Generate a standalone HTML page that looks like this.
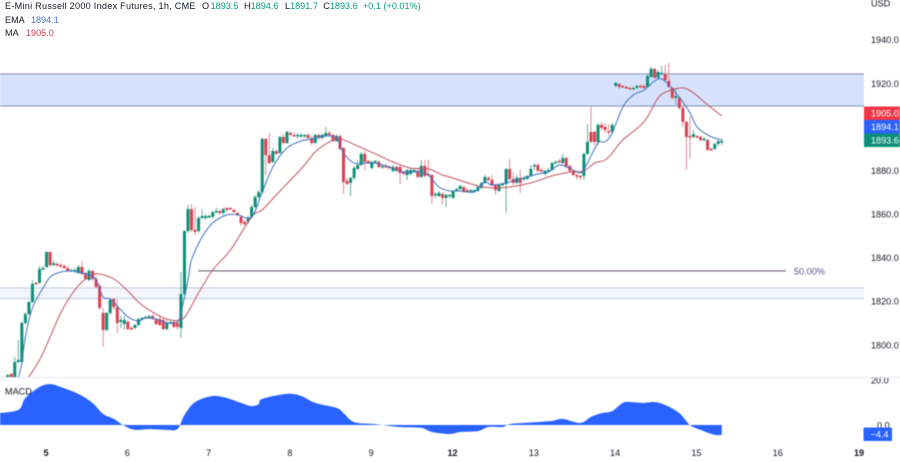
<!DOCTYPE html>
<html lang="en">
<head>
<meta charset="utf-8">
<title>E-Mini Russell 2000 Index Futures chart</title>
<style>
  html, body { margin: 0; padding: 0; background: #fff; }
  #chart-root { position: relative; width: 900px; height: 462px; overflow: hidden; background: #fff; font-family: "Liberation Sans", sans-serif; }
  #chart-svg { position: absolute; left: 0; top: 0; filter: blur(0.4px); }
  #chart-svg text { font-family: "Liberation Sans", sans-serif; font-size: 9.1px; }
  .legend-row { position: absolute; left: 5px; font-size: 9.1px; line-height: 13px; color: #131722; white-space: pre; filter: blur(0.25px); }
  .legend-row span { position: absolute; top: 0; }
  .up { color: #089981; font-weight: normal; }
</style>
</head>
<body>
<div id="chart-root">
  <svg id="chart-svg" width="900" height="462" viewBox="0 0 900 462"></svg>
  <div class="legend-row" style="top:-0.5px;">
    <span style="left:0;letter-spacing:0.27px;">E-Mini Russell 2000 Index Futures, 1h, CME</span>
    <span style="left:197px;">O<b class="up" style="margin-left:1.5px;">1893.5</b></span>
    <span style="left:239px;">H<b class="up">1894.6</b></span>
    <span style="left:280px;">L<b class="up">1891.7</b></span>
    <span style="left:318.3px;">C<b class="up">1893.6</b></span>
    <span class="up" style="left:358px;">+0.1 (+0.01%)</span>
  </div>
  <div class="legend-row" style="top:13.5px;">EMA<span style="left:26px;color:#4a74c9;">1894.1</span></div>
  <div class="legend-row" style="top:26.5px;">MA<span style="left:21px;color:#c8404f;">1905.0</span></div>
</div>
<script>
const opens = [
1785.3,1786.7,1785.3,1792.2,1792.2,1810.1,1814.2,1819.7,1828.5,1828.5,
1834.9,1835.8,1842.7,1836.7,1837.2,1836.7,1836.3,1835.3,1834,1834,
1833,1835.8,1833,1829.8,1834,1830.3,1827.1,1814.7,1806.9,1814.7,
1821.1,1817.4,1810.6,1809.6,1810.6,1807.8,1807.8,1809.2,1811.9,1812.4,
1812.9,1813.3,1811.9,1811.9,1811.5,1807.3,1810.1,1810.6,1810.1,1807.8,
1823.4,1852.3,1862.4,1852.8,1852.3,1858.3,1858.3,1858.8,1858.8,1861,
1861.5,1860.6,1862.9,1862.9,1862,1860.6,1858.8,1856.5,1856.5,1858.8,
1863.3,1867.9,1870.2,1894.6,1887.2,1884,1889,1888.1,1895.5,1892.7,
1897.3,1896.4,1895.9,1895.9,1895.9,1896.4,1895,1892.7,1896.4,1895,
1895.9,1897.3,1896.4,1893.6,1895.9,1890.4,1875.3,1874.4,1876.7,1880.8,
1882.6,1887.7,1884.5,1881.2,1884,1884,1881.7,1882.2,1881.7,1879.9,
1881.7,1881.7,1879.4,1878,1878.5,1879.9,1879.9,1877.1,1882.2,1878.5,
1878,1868.9,1868.4,1869.3,1867.5,1868.4,1867.5,1871.1,1871.6,1872.5,
1871.1,1870.7,1870.7,1870.7,1872.1,1874.4,1876.7,1875.7,1873.4,1870.7,
1873.4,1873.9,1880.8,1876.2,1874.4,1876.7,1876.2,1876.2,1877.6,1882.2,
1882.6,1880.3,1878.5,1879.9,1880.3,1883.5,1884.5,1883.5,1885.8,1882.2,
1879.9,1878,1877.6,1877.6,1887.7,1897.8,1897.8,1893.2,1901,1900.1,
1898.2,1897.8,1918.9,1919.8,1918.9,1918.4,1918,1917.5,1918,1918.9,
1918.9,1918.4,1923,1926.7,1922.6,1924.4,1924.4,1921.2,1918,1913.4,
1913.4,1908.8,1902.4,1895.9,1895.5,1895.9,1895.5,1894.1,1894.1,1890,
1890,1892.3,1893.5];
const closes = [
1786.2,1785.3,1792.2,1793.1,1810.1,1814.2,1819.7,1828,1828,1834.9,
1835.3,1842.7,1836.7,1837.6,1836.7,1836.3,1835.3,1834,1834.4,1834.4,
1835.8,1832.6,1830.3,1834,1830.3,1826.6,1817,1806.9,1814.7,1820.7,
1817.4,1810.1,1811.5,1811.5,1807.3,1807.3,1809.2,1811.9,1812.4,1812.9,
1813.3,1811.9,1809.6,1809.2,1807.3,1810.1,1810.6,1808.3,1808.3,1823.4,
1852.3,1862.4,1852.8,1851.9,1858.3,1859.2,1859.2,1859.2,1861,1861.5,
1860.6,1862.4,1862,1862.4,1861,1859.7,1856,1855.5,1858.3,1863.3,
1867.9,1870.2,1894.6,1887.2,1883.5,1889,1887.7,1895.5,1892.7,1897.8,
1896.4,1895.9,1896.4,1896.4,1896.4,1895,1892.7,1896.4,1895,1896.4,
1897.3,1896.4,1893.6,1895.9,1890,1874.8,1873.9,1876.7,1881.2,1882.6,
1887.7,1884,1884,1884,1884.5,1881.7,1882.2,1881.7,1881.2,1881.7,
1879.9,1879,1878.5,1880.3,1880.3,1880.3,1877.1,1882.2,1877.6,1878,
1868.4,1869.3,1869.8,1867.5,1868.9,1868.9,1870.7,1871.6,1873,1870.2,
1870.7,1871.1,1871.1,1872.5,1874.4,1877.1,1875.7,1873.4,1871.1,1873.4,
1873.9,1880.8,1876.2,1874.4,1876.7,1874.4,1876.7,1877.6,1880.8,1882.6,
1879.9,1879.9,1879.9,1880.3,1883.5,1884,1884,1885.8,1881.7,1879.9,
1878,1877.6,1877.1,1887.7,1893.2,1893.2,1893.2,1901,1899.6,1898.7,
1897.8,1901,1920.3,1918.4,1918.4,1918,1917.5,1918,1918.9,1918.4,
1918,1923.5,1926.7,1922.6,1925.3,1924.9,1921.6,1918.4,1913.4,1914.3,
1908.8,1902.4,1895.5,1895.5,1896.8,1895.5,1894.1,1894.6,1889.5,1889.5,
1892.3,1893.6,1893.6];
const highs = [
1786.7,1787.1,1794.5,1802.3,1810.6,1815.1,1820.2,1829.8,1828.9,1836.3,
1836.3,1842.9,1842.9,1838.6,1838.1,1837.6,1837.2,1836.3,1834.9,1835.3,
1836.7,1838.6,1833.5,1834.9,1834.4,1831.7,1828.5,1817,1815.1,1821.6,
1821.6,1820.7,1813.3,1813.3,1811.5,1808.7,1809.6,1812.4,1812.9,1813.3,
1813.8,1814.2,1812.4,1813.8,1812.4,1811.5,1811,1811.5,1811.5,1833.5,
1852.8,1864.3,1864.7,1863.3,1859.2,1862.4,1860.1,1860.1,1861.5,1862.9,
1862,1862.9,1863.3,1863.3,1862.4,1861,1859.2,1857.4,1859.2,1864.3,
1868.9,1871.1,1895,1895,1897.3,1890.4,1889.5,1895.9,1896.8,1898.2,
1898.2,1897.3,1897.3,1897.3,1896.8,1897.3,1895.9,1896.8,1896.8,1897.3,
1900.1,1898.2,1896.8,1896.8,1896.4,1890.9,1876.7,1877.1,1882.2,1884.9,
1888.6,1889,1884.9,1884.5,1884.9,1884.9,1882.6,1883.1,1882.2,1882.6,
1882.2,1882.2,1879.9,1880.8,1881.2,1881.2,1880.8,1884.9,1884.9,1884.9,
1878.5,1870.2,1870.7,1870.2,1869.3,1869.3,1871.1,1872.1,1873.4,1873,
1872.1,1871.6,1871.6,1873,1874.8,1878,1877.6,1878,1873.9,1873.9,
1874.4,1881.2,1885.4,1879.4,1878,1880.3,1877.6,1878,1882.6,1883.5,
1883.5,1881.2,1880.3,1881.2,1884,1884.9,1885.4,1887.7,1886.3,1882.6,
1880.3,1878.5,1878,1888.1,1901.4,1909.2,1898.2,1901.9,1902.4,1901.9,
1901.4,1901.9,1920.7,1920.3,1919.3,1918.9,1918.4,1918.4,1919.3,1919.8,
1919.8,1924.4,1927.6,1927.1,1926.2,1928.1,1928.5,1929.4,1918.4,1918,
1913.8,1909.2,1902.8,1904.7,1898.7,1896.4,1895.9,1895.5,1894.6,1890.4,
1892.7,1894.1,1894.6];
const lows = [
1784.9,1784.9,1784.9,1791.7,1791.7,1809.6,1813.8,1819.3,1827.5,1828,
1834.4,1835.3,1835.8,1836.3,1835.8,1835.3,1834.9,1833.5,1833.5,1833,
1832.6,1832.1,1829.8,1829.4,1829.4,1826.2,1816.1,1799.1,1806.4,1813.8,
1816.1,1805.5,1807.8,1806.9,1806.9,1806.9,1807.3,1808.7,1811.5,1811.9,
1812.4,1811.5,1809.2,1808.7,1806.9,1806.9,1809.6,1807.8,1806.9,1803.2,
1822.5,1851.4,1851.9,1850.5,1851.4,1857.8,1857.4,1858.3,1858.3,1860.6,
1859.7,1859.7,1861,1862,1860.6,1859.2,1854.6,1854.6,1855.5,1857.8,
1862.9,1867.5,1869.3,1878,1883.1,1883.5,1887.2,1887.7,1892.3,1892.3,
1895.9,1895.5,1894.6,1895,1895,1894.6,1891.8,1892.3,1894.1,1894.6,
1895.5,1895.5,1893.2,1893.2,1889.5,1869.3,1873.4,1868.4,1875.7,1880.3,
1882.2,1880.3,1883.1,1880.8,1883.5,1881.2,1880.8,1881.2,1880.8,1879.4,
1879.4,1873.9,1878,1875.7,1878,1879.4,1876.7,1876.7,1876.7,1877.1,
1864.7,1867.5,1867.9,1864.3,1863.3,1867.5,1867,1870.7,1871.1,1869.8,
1870.2,1870.2,1870.2,1870.2,1871.6,1873.9,1875.3,1873,1868.9,1870.2,
1873,1860.6,1875.3,1873.4,1873.9,1869.8,1875.3,1875.7,1877.1,1880.3,
1879.4,1879.4,1878,1879.4,1879.9,1883.1,1883.5,1883.1,1881.2,1879.4,
1877.6,1875.7,1875.7,1875.7,1887.2,1892.7,1891.8,1891.8,1898.7,1897.3,
1895.9,1896.8,1918.4,1917.5,1918,1917.5,1917,1917,1917.5,1918,
1917.5,1918,1922.6,1922.1,1922.1,1923.9,1920.7,1918,1912.5,1910.2,
1907.9,1900.1,1880.3,1885.4,1895,1895,1893.6,1893.6,1889,1889,
1889.5,1891.3,1891.7];

const emaBars = [3,4,5,7,10,12,14,17,20,23,25,27,29,32,34,37,39,42,45,48,49,51,52,55,58,62,65,69,72,75,79,83,86,90,93,95,98,101,104,108,112,117,119,122,125,128,132,135,137,141,144,150,153,156,159,162,164,167,169,171,174,177,180,183,185,187,189,191,193,195,198,200,202];
const emaValues = [1784.9,1791.7,1803.7,1817,1826.2,1831.2,1833,1834,1833.5,1832.1,1829.8,1822,1821.1,1816.1,1812.9,1811,1812.4,1811.9,1810.1,1810.6,1814.7,1829.8,1839,1849.6,1856,1859.7,1859.7,1858.8,1870.2,1881.7,1890.4,1893.6,1894.6,1895.9,1895,1888.1,1883.5,1883.5,1883.5,1881.7,1879.4,1879.4,1878,1872.5,1870.7,1870.7,1870.2,1874.8,1873.4,1874.4,1875.7,1878.5,1879.4,1882.6,1881.2,1879,1883.5,1892.7,1893.2,1897.3,1909.2,1914.8,1917,1921.2,1922.1,1919.3,1915.7,1911.5,1906.5,1900.1,1896.4,1895,1894.1];
const maBars = [6,9,12,15,18,21,24,26,30,34,37,41,45,49,51,54,58,63,69,72,76,80,84,87,91,94,99,104,109,114,119,123,125,133,137,142,148,154,159,163,166,169,171,174,180,184,187,191,194,198,202];
const maValues = [1785.3,1793.1,1803.7,1814.7,1823,1828.9,1832.1,1832.6,1830.3,1824.8,1819.7,1815.1,1811.9,1811.5,1815.1,1823.9,1834.4,1843.6,1858.8,1862,1868.9,1875.7,1882.6,1888.6,1893.2,1894.6,1891.3,1887.7,1884,1881.2,1880.8,1878,1877.1,1873,1872.1,1872.5,1874.4,1877.6,1879.4,1879.9,1883.5,1884.9,1888.1,1894.1,1902.4,1913.4,1916.6,1918,1915.7,1910.2,1905.1];

const macdBars = [-3,3,5,9,12,15,20,24,27,30,33,36,40,45,48,50,53,58,62,66,69,71,72,79,83,87,93,95,98,104,111,117,120,125,128,133,136,140,142,146,150,154,157,162,165,168,171,174,176,180,183,186,190,193,196,200,202];
const macdValues = [5.2,6.7,12,16.9,18.2,16.9,13.8,9.8,4.9,2.7,-0.4,-2.2,-1.8,-2.2,-1.8,4.4,10.2,12.9,12,9.8,8.4,9.3,11.6,13.8,12.9,9.8,7.6,5.3,1.3,0.4,-0.9,-1.3,-3.1,-4,-3.1,-2.7,-0.9,-0.9,0.4,0.9,1.3,1.8,2.7,0.9,3.6,5.3,6.2,9.8,10.2,9.8,10.2,8.9,5.3,0,-2.2,-4.4,-4.4];

const priceTicks = [1940, 1920, 1880, 1860, 1840, 1820, 1800];
const priceTickLabels = ["1940.0", "1920.0", "1880.0", "1860.0", "1840.0", "1820.0", "1800.0"];
const macdTicks = [20, 0];
const macdTickLabels = ["20.0", "0.0"];
const dayLabels = ["5", "6", "7", "8", "9", "12", "13", "14", "15", "16", "19"];
const boldDayLabels = ["5", "12", "19"];
const upperZone = [1924.4, 1909.7];
const lowerZone = [1826.2, 1821.3];
const fibLevel = [1834];
const lastPrices = [1905.0, 1894.1, 1893.6];
const lastMacd = [-4.4];

const svg = document.getElementById('chart-svg');
const NS = 'http://www.w3.org/2000/svg';

function xScale(bar) { return 7.7 + 3.535 * bar; }
function yPrice(p) { return 345 - (p - 1800) * 2.179; }
function yMacd(v) { return 425 - v * 2.25; }
function xDay(k) { return xScale(10.83 + 23 * k); }

function make(tag, attrs, parent) {
  const el = document.createElementNS(NS, tag);
  for (const key in attrs) { el.setAttribute(key, attrs[key]); }
  (parent || svg).appendChild(el);
  return el;
}
function label(x, y, str, fill, anchor, weight) {
  const t = make('text', { x: x, y: y, fill: fill, 'text-anchor': anchor || 'start', 'font-weight': weight || 'normal' });
  t.textContent = str;
  return t;
}
// smooth curve through sampled points
function smoothPath(pts) {
  let d = 'L' + pts[0][0].toFixed(1) + ' ' + pts[0][1].toFixed(1);
  for (let i = 0; i < pts.length - 1; i++) {
    const p0 = pts[Math.max(0, i - 1)], p1 = pts[i], p2 = pts[i + 1], p3 = pts[Math.min(pts.length - 1, i + 2)];
    const c1x = p1[0] + (p2[0] - p0[0]) / 6, c1y = p1[1] + (p2[1] - p0[1]) / 6;
    const c2x = p2[0] - (p3[0] - p1[0]) / 6, c2y = p2[1] - (p3[1] - p1[1]) / 6;
    d += 'C' + c1x.toFixed(1) + ' ' + c1y.toFixed(1) + ' ' + c2x.toFixed(1) + ' ' + c2y.toFixed(1) + ' ' + p2[0].toFixed(1) + ' ' + p2[1].toFixed(1);
  }
  return d;
}

const defs = make('defs', {});
const clip = make('clipPath', { id: 'price-clip' }, defs);
make('rect', { x: 0, y: 0, width: 864, height: 377 }, clip);

// upper zone
const zoneA = make('rect', { x: 0, y: yPrice(upperZone[0]), width: 864, height: yPrice(upperZone[1]) - yPrice(upperZone[0]), fill: '#d6e2fd', stroke: 'none' });


upperZone.forEach(function (p) {
  const ln = make('line', { x1: 0, x2: 864, y1: yPrice(p), y2: yPrice(p), stroke: '#7d8fb0', 'stroke-width': 1 });
  
  
});

// lower zone
const zoneB = make('rect', { x: 0, y: yPrice(lowerZone[0]), width: 864, height: yPrice(lowerZone[1]) - yPrice(lowerZone[0]), fill: '#f3f6fc' });


lowerZone.forEach(function (p) {
  const ln = make('line', { x1: 0, x2: 864, y1: yPrice(p), y2: yPrice(p), stroke: '#c0cbdd', 'stroke-width': 1 });
  
  
});

// fib line
const fib = make('line', { x1: 198, x2: 786, y1: yPrice(fibLevel[0]), y2: yPrice(fibLevel[0]), stroke: '#5f4f66', 'stroke-width': 1 });


const fibText = label(794, yPrice(fibLevel[0]) + 3.5, '50.00%', '#5e4b8b');



// candles
const candleGroup = make('g', { 'clip-path': 'url(#price-clip)' });


opens.forEach(function (o, i) {
  const c = closes[i];
  const up = c >= o;
  const x = xScale(i);
  const wick = make('line', { x1: x, x2: x, y1: yPrice(highs[i]), y2: yPrice(lows[i]), stroke: up ? '#5fae9f' : '#d98a94', 'stroke-width': 1 }, candleGroup);
  
  
  const top = yPrice(Math.max(o, c));
  const h = Math.max(1.5, Math.abs(yPrice(o) - yPrice(c)));
  const body = make('rect', { x: x - 1.5, y: top, width: 3, height: h, fill: up ? '#0b8f78' : '#dc3f50' }, candleGroup);
  
  
});

// moving averages
function pricePoints(bars, vals) {
  return bars.map(function (b, i) { return [xScale(b), yPrice(vals[i])]; });
}
const maLine = make('path', { d: 'M' + smoothPath(pricePoints(maBars, maValues)).slice(1), fill: 'none', stroke: '#c2525d', 'stroke-width': 1, 'clip-path': 'url(#price-clip)' });


const emaLine = make('path', { d: 'M' + smoothPath(pricePoints(emaBars, emaValues)).slice(1), fill: 'none', stroke: '#3f72c4', 'stroke-width': 1, 'clip-path': 'url(#price-clip)' });



// MACD area
const first = xScale(macdBars[0]);
const last = xScale(macdBars[macdBars.length - 1]);
const macdPts = macdBars.map(function (b, i) { return [xScale(b), yMacd(macdValues[i])]; });
const macdArea = make('path', { d: 'M' + first + ' ' + yMacd(0) + smoothPath(macdPts) + 'L' + last + ' ' + yMacd(0) + 'Z', fill: '#2962ff' });


const macdName = label(5, 394.5, 'MACD', '#131722');



// price axis
const usd = label(871, 6.5, 'USD', '#131722');


priceTicks.forEach(function (p, i) {
  const t = label(871, yPrice(p) + 3.3, priceTickLabels[i], '#131722');
  
  
});
macdTicks.forEach(function (v, i) {
  const t = label(871 + (v === 0 ? 6 : 0), yMacd(v) + 3.3, macdTickLabels[i], '#131722');
  
  
});

const sep = make('line', { x1: 0, x2: 900, y1: 377.5, y2: 377.5, stroke: '#e4e6ec', 'stroke-width': 1 });



// last-price tags
const tagColors = ['#f23645', '#2962ff', '#0b8f78'];
lastPrices.forEach(function (p, i) {
  const y = 106.5 + i * 13.5;
  const box = make('rect', { x: 864, y: y, width: 36, height: 13.5, fill: tagColors[i] });
  
  
  const t = label(871, y + 10.2, p.toFixed(1), '#ffffff');
  
  
});
const macdBox = make('rect', { x: 863.5, y: 427.5, width: 28.5, height: 13.5, rx: 1, fill: '#2962ff' });


const macdTag = label(888.5, 437.7, lastMacd[0].toFixed(1).replace('-', '\u2212'), '#ffffff', 'end');



// day axis
dayLabels.forEach(function (d, k) {
  const bold = boldDayLabels.indexOf(d) >= 0;
  const t = label(xDay(k), 456, d, '#131722', 'middle', bold ? 'bold' : 'normal');
  
  
});
</script>
</body>
</html>
